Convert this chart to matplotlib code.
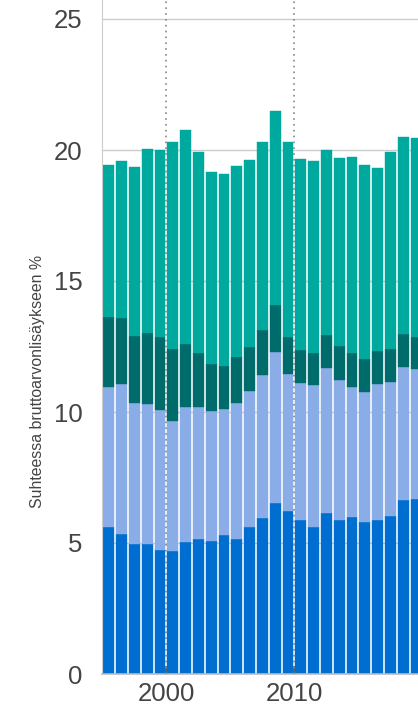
import matplotlib
matplotlib.use("Agg")
import matplotlib.pyplot as plt
import numpy as np

plt.rcParams['font.family'] = ['Liberation Sans', 'DejaVu Sans']

years = list(range(1995, 2020))
total = [19.42, 19.58, 19.35, 20.04, 20.01, 20.31, 20.76, 19.92, 19.16, 19.08,
         19.40, 19.61, 20.31, 21.48, 20.31, 19.66, 19.58, 20.00, 19.68, 19.75,
         19.42, 19.33, 19.92, 20.48, 20.46]
cum3 = [13.63, 13.58, 12.89, 13.00, 12.85, 12.39, 12.58, 12.24, 11.82, 11.74,
        12.09, 12.47, 13.13, 14.07, 12.85, 12.37, 12.24, 12.93, 12.51, 12.24,
        12.04, 12.32, 12.39, 12.98, 12.85]
cum2 = [10.97, 11.07, 10.34, 10.31, 10.08, 9.66, 10.18, 10.20, 10.04, 10.11,
        10.34, 10.79, 11.41, 12.30, 11.44, 11.11, 11.04, 11.68, 11.21, 10.94,
        10.78, 11.08, 11.16, 11.73, 11.64]
s1 = [5.61, 5.34, 4.97, 4.97, 4.72, 4.69, 5.05, 5.14, 5.09, 5.32,
      5.14, 5.61, 5.95, 6.54, 6.22, 5.88, 5.61, 6.16, 5.88, 5.99,
      5.80, 5.88, 6.02, 6.65, 6.68]
s2 = [b - a for a, b in zip(s1, cum2)]
s3 = [b - a for a, b in zip(cum2, cum3)]
s4 = [b - a for a, b in zip(cum3, total)]
series = [s1, s2, s3, s4]
colors = ['#006ed0', '#8aade8', '#006b6b', '#00a99d']
ylabel = 'Suhteessa bruttoarvonlisäykseen %'
xticks = [2000, 2010]
yticks = [0, 5, 10, 15, 20, 25]

fig = plt.figure(figsize=(4.18, 7.04), dpi=100)
ax = fig.add_axes([102/418, 30/704, 316/418, 674/704])

x = np.array(years) + 0.53
bottom = np.zeros(len(years))
for vals, c in zip(series, colors):
    ax.bar(x, vals, width=0.85, bottom=bottom, color=c, edgecolor=c,
           linewidth=0.3, zorder=2)
    bottom += np.array(vals)

for xt in xticks:
    ax.axvline(xt, color='#888888', linestyle=(0, (1, 2.5)), linewidth=1.2, zorder=3)

ax.set_xlim(1995, 1995 + 316/12.8)
ax.set_ylim(0, 674/26.2)
ax.set_yticks(yticks)
ax.set_xticks(xticks)
ax.set_xticklabels([str(t) for t in xticks])
ax.grid(axis='y', color='#cccccc', linewidth=1, zorder=0)
ax.set_axisbelow(True)
for s in ['top', 'right']:
    ax.spines[s].set_visible(False)
ax.spines['left'].set_color('#cccccc')
ax.spines['bottom'].set_color('#bbbbbb')
ax.spines['bottom'].set_linewidth(1.2)
ax.tick_params(axis='y', length=0, pad=14, labelsize=18.5, labelcolor='#444444')
ax.tick_params(axis='x', direction='in', length=6, width=1.2, color='#444444',
               pad=6, labelsize=18.5, labelcolor='#444444')

fig.text(38/418, 1 - 381.5/704, ylabel, rotation=90, ha='center', va='center',
         fontsize=11.4, color='#444444')

fig.savefig('out.png', dpi=100)
